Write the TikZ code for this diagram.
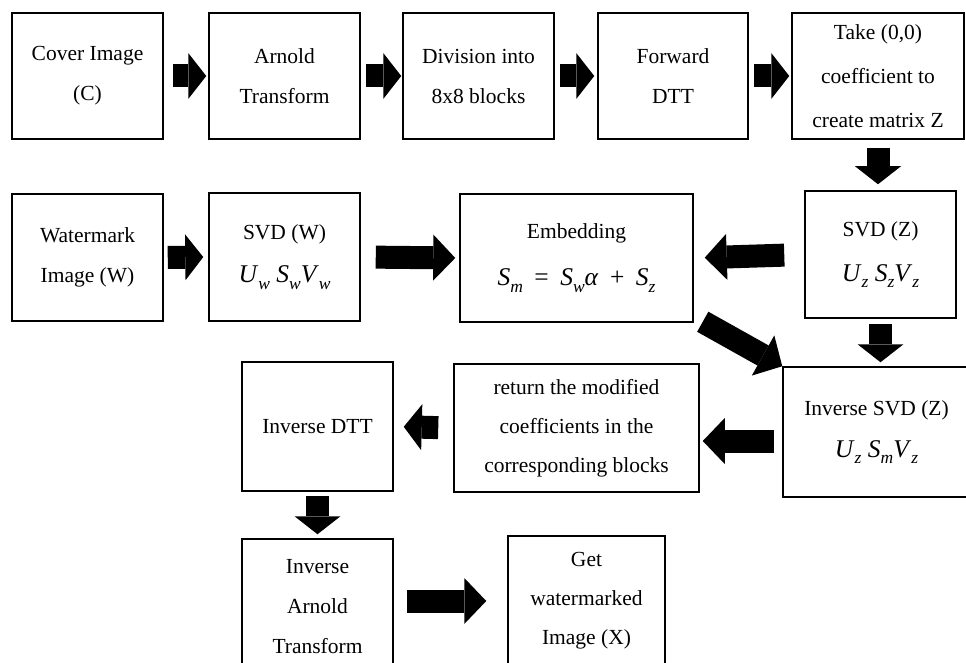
\documentclass[tikz,border=0pt]{standalone}
\usepackage{fontspec}
\setmainfont{Liberation Serif}
\usetikzlibrary{arrows.meta}
\tikzset{>=latex}
\tikzstyle{box}=[draw,line width=1.5,inner sep=0,align=center,font=\fontsize{21.5}{40}\selectfont]
\tikzstyle{block}=[line width=23,-{Triangle[length=18pt,width=46pt,line width=0pt]}]
\tikzstyle{long block}=[line width=23,-{Triangle[length=22pt,width=46pt,line width=0pt]}]
% formula lines: bigger italic letters with an index under them
\newcommand{\eqfont}{\fontsize{25.5}{40}\selectfont}
\newcommand{\mvar}[2]{\textit{#1}\raisebox{-0.26em}{\fontsize{17.5}{17.5}\selectfont\textit{#2}}}
\newcommand{\op}[1]{\hspace{0.45em}#1\hspace{0.45em}}

\begin{document}
\begin{tikzpicture}[x=1pt,y=1pt]
  \useasboundingbox (0,0) rectangle (966,-663);

  % ROW 1
  \node[box,minimum width=151,minimum height=126] (cover) at (87.5,-76) {Cover Image\\(C)};
  \node[box,minimum width=151,minimum height=126] (arnold) at (284.5,-76) {Arnold\\Transform};
  \node[box,minimum width=151,minimum height=126] (divide) at (478.5,-76) {Division into\\8x8 blocks};
  \node[box,minimum width=150,minimum height=126] (fwd) at (673,-76) {Forward\\DTT};
  \node[box,minimum width=172,minimum height=126,font=\fontsize{21.5}{44}\selectfont] (take) at (878,-76)
    {Take (0,0)\\coefficient to\\create matrix Z};

  % ROW 2
  \node[box,minimum width=151,minimum height=127] (wm) at (87.5,-257.5) {Watermark\\Image (W)};
  \node[box,minimum width=151,minimum height=128] (svdw) at (284.5,-257)
    {SVD (W)\\[3pt]{\eqfont\mvar{U}{w} \mvar{S}{w}\mvar{V}{w}}};
  \node[box,minimum width=233,minimum height=128] (embed) at (576.5,-258)
    {Embedding\\[7pt]{\eqfont\mvar{S}{m}\op{=}\mvar{S}{w}\textit{α}\op{+}\mvar{S}{z}}};
  \node[box,minimum width=151,minimum height=127] (svdz) at (880.5,-254.5)
    {SVD (Z)\\[5pt]{\eqfont\mvar{U}{z} \mvar{S}{z}\mvar{V}{z}}};

  % ROW 3
  \node[box,minimum width=187,minimum height=130] (isvd) at (876.5,-432)
    {Inverse SVD (Z)\\[2pt]{\eqfont\mvar{U}{z} \mvar{S}{m}\mvar{V}{z}}};
  \node[box,minimum width=245,minimum height=128,font=\fontsize{21.5}{39}\selectfont] (ret) at (576.5,-428)
    {return the modified\\coefficients in the\\corresponding blocks};
  \node[box,minimum width=151,minimum height=129] (idtt) at (317.5,-426.5) {Inverse DTT};

  % ROW 4
  \node[box,minimum width=151,minimum height=136] (iarnold) at (317.5,-607) {Inverse\\Arnold\\Transform};
  \node[box,minimum width=157,minimum height=130,font=\fontsize{21.5}{39}\selectfont] (get) at (586.5,-601)
    {Get\\watermarked\\Image (X)};

  % ARROWS
  \draw[block,shorten <=9pt,shorten >=2pt] (cover.east) -- (arnold.west);
  \draw[block,shorten <=5pt,shorten >=1pt] (arnold.east) -- (divide.west);
  \draw[block,shorten <=5pt,shorten >=3pt] (divide.east) -- (fwd.west);
  \draw[block,shorten <=5pt,shorten >=2pt] (fwd.east) -- (take.west);
  \draw[block,shorten <=8pt,shorten >=6pt] (take.south) -- (take.south |- svdz.north);
  \draw[block,shorten <=4pt,shorten >=5pt] (wm.east) -- (svdw.west);
  \draw[long block,shorten <=15pt,shorten >=4pt] (svdw.east) -- (embed.west);
  \draw[long block,shorten <=20pt,shorten >=11pt] (svdz.west) -- (embed.east);
  \draw[block,shorten <=5pt,shorten >=4pt] (svdz.south) -- (svdz.south |- isvd.north);
  \draw[long block] ([xshift=9pt,yshift=1pt]embed.south east) -- (isvd.north west);
  \draw[long block,shorten <=8pt,shorten >=3pt] ([yshift=-9pt]isvd.west) -- ([yshift=-9pt]isvd.west -| ret.east);
  \draw[block,shorten <=15pt,shorten >=10pt] (ret.west) -- (idtt.east);
  \draw[block,shorten <=4pt,shorten >=4pt] (idtt.south) -- (idtt.south |- iarnold.north);
  \draw[long block,shorten <=13pt,shorten >=21pt] (iarnold.east |- get.west) -- (get.west);
\end{tikzpicture}
\end{document}
